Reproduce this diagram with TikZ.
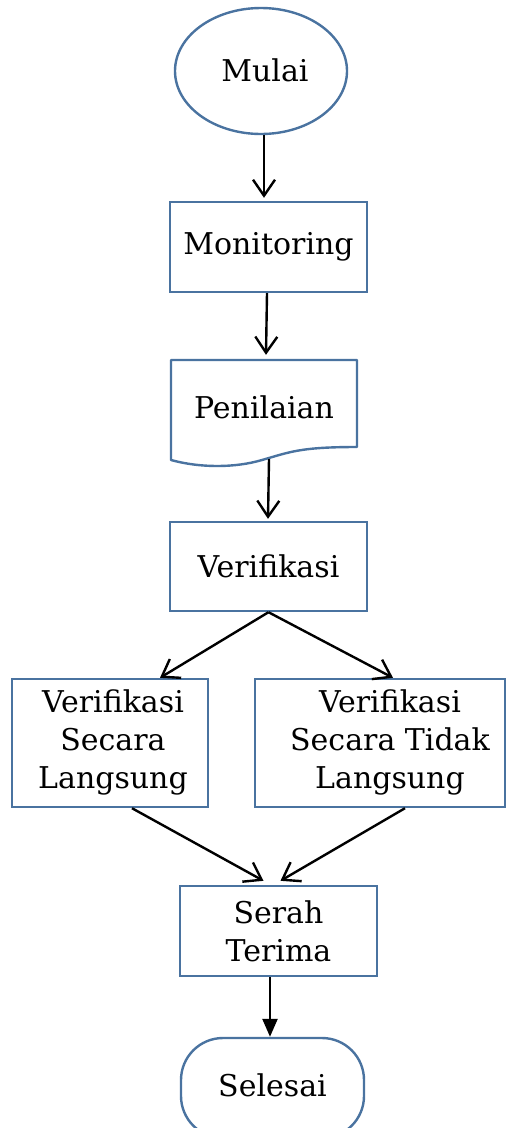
\documentclass[tikz,border=0pt]{standalone}
\usepackage{fontspec}
\setmainfont{DejaVu Serif}
\usetikzlibrary{arrows.meta,shapes.geometric}
\definecolor{bord}{HTML}{4A73A0}
\tikzset{
  box/.style={draw=bord,line width=2.4pt,rectangle,align=center,inner sep=0pt,font=\fontsize{30}{38}\selectfont},
  flow/.style={draw=black,line width=2.4pt,-{Straight Barb[length=16pt,width=22pt,line width=2.4pt]}},
  flowfill/.style={draw=black,line width=2.4pt,-{Triangle[length=18pt,width=15pt]}},
}
\begin{document}
\begin{tikzpicture}[x=1pt,y=-1pt]
\useasboundingbox (0,0) rectangle (506,1128);
\node[box,ellipse,minimum width=172pt,minimum height=126pt] (mulai) at (261,71) {\hspace{8pt}\raisebox{2pt}{Mulai}};
\node[box,minimum width=197pt,minimum height=90pt] (mon) at (268.5,247) {Monitoring};
\node[box,draw=none,minimum width=186pt,minimum height=100pt] (pen) at (264,410) {\raisebox{6pt}{Penilaian}};
\draw[draw=bord,line width=2.4pt,line join=round] (171,360) -- (357,360) -- (357,447) .. controls (300,447) and (290,452) .. (262,460) .. controls (235,468) and (200,468) .. (171,460) -- cycle;
\node[box,minimum width=197pt,minimum height=89pt] (ver) at (268.5,566.5) {Verifikasi};
\node[box,minimum width=196pt,minimum height=128pt] (left) at (110,743) {\hspace{6pt}\begin{tabular}{@{}c@{}}Verifikasi\\Secara\\Langsung\end{tabular}};
\node[box,minimum width=250pt,minimum height=128pt] (right) at (380,743) {\hspace{20pt}\begin{tabular}{@{}c@{}}Verifikasi\\Secara Tidak\\Langsung\end{tabular}};
\node[box,minimum width=197pt,minimum height=90pt] (serah) at (278.5,931) {Serah\\Terima};
\node[box,rounded corners=42pt,minimum width=183pt,minimum height=100pt] (sel) at (272.5,1088) {\raisebox{6pt}{Selesai}};
\draw[flow] ([xshift=3pt]mulai.south) -- ([xshift=-4.5pt,yshift=3pt]mon.north);
\draw[flow] ([xshift=-1.5pt]mon.south) -- ([xshift=2pt,yshift=4pt]pen.north);
\draw[flow] ([xshift=5pt,yshift=2pt]pen.south) -- ([xshift=-0.5pt,yshift=2pt]ver.north);
\draw[flow] (ver.south) -- ([xshift=50pt]left.north);
\draw[flow] (ver.south) -- ([xshift=13pt]right.north);
\draw[flow] ([xshift=22pt]left.south) -- ([xshift=-15pt,yshift=4pt]serah.north);
\draw[flow] ([xshift=25pt]right.south) -- ([xshift=2pt,yshift=4pt]serah.north);
\draw[flowfill] ([xshift=-8.5pt]serah.south) -- ([xshift=-2.5pt]sel.north);
\end{tikzpicture}
\end{document}
